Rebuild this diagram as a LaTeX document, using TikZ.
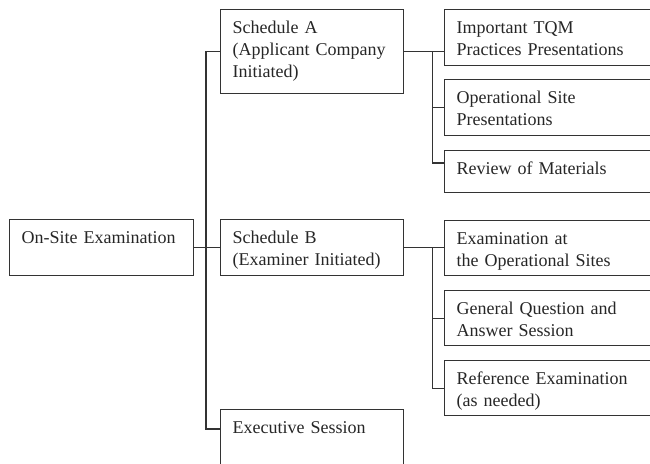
\documentclass[tikz,border=0pt]{standalone}
\usepackage{fontspec}
\setmainfont{Liberation Serif}

\tikzset{
  box/.style={draw=black!80, line width=1.2pt, anchor=north west, align=left,
    inner xsep=12pt, inner ysep=11pt, text height=13pt, text=black!85,
    font=\fontsize{18}{22}\selectfont},
  midbox/.style={box, text width=159pt},
  leafbox/.style={box, text width=190pt},
  link/.style={draw=black!80, line width=1.2pt}
}

\begin{document}
\begin{tikzpicture}[x=1pt, y=-1pt, line cap=rect, line join=miter]

  %% ════ 画布：固定尺寸，右侧方框被裁掉 ════
  \useasboundingbox (0,0) rectangle (650,463);
  \clip (0,0) rectangle (650,463);

  %% ════ 方框 ════
  \node[box, text width=160pt, text depth=21pt] (root) at (9,219) {On-Site Examination};

  \node[midbox, text depth=49pt] (schA) at (220,9)   {Schedule A\\(Applicant Company\\Initiated)};
  \node[midbox, text depth=21pt] (schB) at (220,219) {Schedule B\\(Examiner Initiated)};
  \node[midbox, text depth=25pt] (exec) at (220,409) {Executive Session};

  \node[leafbox, text depth=21pt] (tqm)  at (444,9)   {Important TQM\\Practices Presentations};
  \node[leafbox, text depth=21pt] (ops)  at (444,79)  {Operational Site\\Presentations};
  \node[leafbox, text depth=7pt]  (rev)  at (444,150) {Review of Materials};

  \node[leafbox, text depth=20pt] (exam) at (444,220) {Examination at\\the Operational Sites};
  \node[leafbox, text depth=20pt] (gen)  at (444,290) {General Question and\\Answer Session};
  \node[leafbox, text depth=20pt] (ref)  at (444,360) {Reference Examination\\(as needed)};

  %% ════ 连线 ════
  % 第一层
  \draw[link] (root.east) -- (schB.west);
  \draw[link] (schA.west) -- ++(-14,0) |- ([yshift=-20pt]exec.north west);

  % Schedule A 的分支
  \draw[link] (schA.east) -- (tqm.west |- schA.east);
  \draw[link] (schA.east) -- ++(28,0) |- ([yshift=-13pt]rev.north west);
  \draw[link] (schA.east) ++(28,0) |- (ops.west);

  % Schedule B 的分支
  \draw[link] (schB.east) -- (exam.west |- schB.east);
  \draw[link] (schB.east) -- ++(28,0) |- (ref.west);
  \draw[link] (schB.east) ++(28,0) |- (gen.west);

\end{tikzpicture}
\end{document}
